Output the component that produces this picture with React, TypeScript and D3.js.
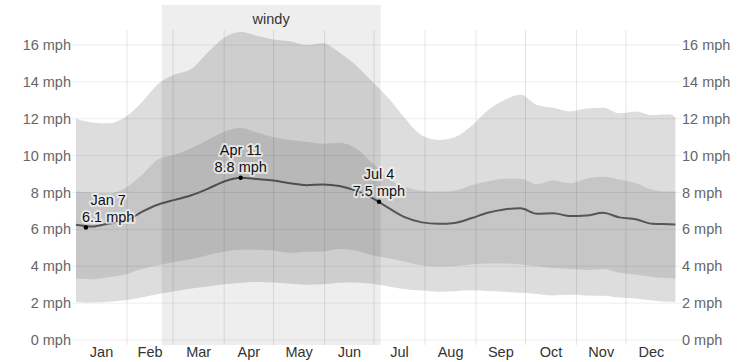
import React, { useEffect, useRef } from 'react';
import * as d3 from 'd3';

// day of year (0 = Jan 1) where the bands were sampled
const days = [0, 10, 20, 30, 40, 50, 60, 70, 80, 90, 100, 110, 120, 130, 140, 150, 160, 170, 180, 190, 200, 210, 220, 230, 240, 250, 260, 270, 280, 290, 300, 310, 320, 330, 340, 350, 360, 364];

const p10 = [2.08, 2.03, 2.08, 2.15, 2.3, 2.5, 2.65, 2.8, 2.9, 3.02, 3.1, 3.15, 3.12, 3.05, 3.0, 3.02, 3.1, 3.12, 3.05, 2.9, 2.75, 2.68, 2.62, 2.65, 2.7, 2.66, 2.62, 2.56, 2.5, 2.42, 2.45, 2.42, 2.4, 2.3, 2.25, 2.14, 2.08, 2.08];
const p25 = [3.34, 3.3, 3.4, 3.55, 3.85, 4.05, 4.25, 4.4, 4.6, 4.8, 4.9, 4.9, 4.85, 4.72, 4.78, 4.8, 4.93, 4.85, 4.6, 4.43, 4.25, 4.05, 3.98, 4.02, 4.1, 4.15, 4.15, 4.1, 4.0, 3.9, 3.85, 3.8, 3.85, 3.65, 3.55, 3.42, 3.36, 3.34];
const meanSpeed = [6.25, 6.15, 6.32, 6.45, 6.95, 7.35, 7.6, 7.85, 8.2, 8.6, 8.8, 8.73, 8.65, 8.5, 8.4, 8.44, 8.35, 8.1, 7.7, 7.15, 6.65, 6.38, 6.3, 6.35, 6.6, 6.9, 7.08, 7.14, 6.85, 6.88, 6.72, 6.75, 6.9, 6.65, 6.55, 6.3, 6.28, 6.27];
const p75 = [8.05, 8.0, 7.95, 8.25, 8.95, 9.8, 10.05, 10.4, 10.85, 11.3, 11.5, 11.25, 11.0, 10.85, 10.75, 10.65, 10.7, 10.4, 9.6, 8.75, 8.3, 8.1, 8.05, 8.1, 8.4, 8.6, 8.75, 8.75, 8.45, 8.65, 8.5, 8.75, 8.85, 8.7, 8.5, 8.15, 8.05, 8.05];
const p90 = [12.0, 11.8, 11.75, 12.1, 12.9, 13.9, 14.4, 14.7, 15.6, 16.4, 16.7, 16.5, 16.3, 16.2, 16.0, 16.1, 15.6, 14.9, 14.0, 13.1, 12.0, 11.1, 10.85, 11.0, 11.6, 12.45, 13.0, 13.3, 12.75, 12.6, 12.4, 12.55, 12.6, 12.3, 12.4, 12.2, 12.25, 12.1];

const months = ['Jan', 'Feb', 'Mar', 'Apr', 'May', 'Jun', 'Jul', 'Aug', 'Sep', 'Oct', 'Nov', 'Dec'];
const monthLengths = [31, 28, 31, 30, 31, 30, 31, 31, 30, 31, 30, 31];
const yTicks = [0, 2, 4, 6, 8, 10, 12, 14, 16];

const windyStart = 52; // Feb 22
const windyEnd = 185; // Jul 4

const annotationDays = [6, 100, 184];
const annotationDates = ['Jan 7', 'Apr 11', 'Jul 4'];
const annotationValues = [6.1, 8.8, 7.5];

const W = 753;
const H = 362;
const FONT = '"Liberation Sans", Arial, sans-serif';

const App: React.FC = () => {
  const svgRef = useRef<SVGSVGElement>(null);

  useEffect(() => {
    if (!svgRef.current) return;
    const svg = d3.select(svgRef.current);
    svg.selectAll('*').remove();

    const left = 76;
    const right = 677;
    const x = d3.scaleLinear().domain([0, 365]).range([left, right]);
    const y = d3.scaleLinear().domain([0, 16]).range([340, 45]);

    const idx = days.map((_, i) => i);

    const band = (lo: number[], hi: number[]) =>
      d3
        .area<number>()
        .x((i) => x(days[i]))
        .y0((i) => y(lo[i]))
        .y1((i) => y(hi[i]))
        .curve(d3.curveMonotoneX)(idx);

    svg.append('path').attr('d', band(p10, p90)).attr('fill', '#dddddd');
    svg.append('path').attr('d', band(p25, p75)).attr('fill', '#c6c6c6');

    // grid
    svg
      .append('g')
      .selectAll('line')
      .data(yTicks)
      .enter()
      .append('line')
      .attr('x1', left - 4)
      .attr('x2', right + 4)
      .attr('y1', (d) => y(d))
      .attr('y2', (d) => y(d))
      .attr('stroke', '#000')
      .attr('stroke-opacity', 0.07);

    const monthStarts = monthLengths.map((_, i) => d3.sum(monthLengths.slice(0, i)));
    svg
      .append('g')
      .selectAll('line')
      .data(monthStarts.slice(1))
      .enter()
      .append('line')
      .attr('x1', (d) => x(d))
      .attr('x2', (d) => x(d))
      .attr('y1', 30)
      .attr('y2', 345)
      .attr('stroke', '#000')
      .attr('stroke-opacity', 0.1);

    // mean line
    const line = d3
      .line<number>()
      .x((i) => x(days[i]))
      .y((i) => y(meanSpeed[i]))
      .curve(d3.curveMonotoneX);
    svg
      .append('path')
      .attr('d', line(idx))
      .attr('fill', 'none')
      .attr('stroke', '#555')
      .attr('stroke-width', 2);

    // windy season overlay
    svg
      .append('rect')
      .attr('x', x(windyStart))
      .attr('y', 5)
      .attr('width', x(windyEnd) - x(windyStart))
      .attr('height', 340)
      .attr('fill', '#000')
      .attr('fill-opacity', 0.068);

    svg
      .append('text')
      .attr('x', (x(windyStart) + x(windyEnd)) / 2)
      .attr('y', 24)
      .attr('text-anchor', 'middle')
      .attr('font-family', FONT)
      .attr('font-size', 14.5)
      .attr('fill', '#333')
      .text('windy');

    // y axes
    const yl = svg.append('g').attr('font-family', FONT).attr('font-size', 14.5).attr('fill', '#666');
    yl.selectAll('text.l')
      .data(yTicks)
      .enter()
      .append('text')
      .attr('class', 'l')
      .attr('x', 71)
      .attr('y', (d) => y(d) + 5)
      .attr('text-anchor', 'end')
      .text((d) => `${d} mph`);
    yl.selectAll('text.r')
      .data(yTicks)
      .enter()
      .append('text')
      .attr('class', 'r')
      .attr('x', 682)
      .attr('y', (d) => y(d) + 5)
      .attr('text-anchor', 'start')
      .text((d) => `${d} mph`);

    // months
    svg
      .append('g')
      .selectAll('text')
      .data(months)
      .enter()
      .append('text')
      .attr('x', (_, i) => x(monthStarts[i] + monthLengths[i] / 2))
      .attr('y', 357)
      .attr('text-anchor', 'middle')
      .attr('font-family', FONT)
      .attr('font-size', 14.5)
      .attr('fill', '#333')
      .text((d) => d);

    // annotations
    annotationDays.forEach((d, i) => {
      const cx = x(d);
      const cy = y(annotationValues[i]);
      svg.append('circle').attr('cx', cx).attr('cy', cy).attr('r', 2.2).attr('fill', '#000');
      const g = svg
        .append('g')
        .attr('font-family', FONT)
        .attr('font-size', 14.5)
        .attr('text-anchor', 'middle');
      const lines = [annotationDates[i], `${annotationValues[i]} mph`];
      const texts = lines.map((t, k) =>
        g
          .append('text')
          .attr('x', cx)
          .attr('y', cy - 23 + k * 17)
          .attr('fill', '#111')
          .attr('stroke', '#fff')
          .attr('stroke-opacity', 0.6)
          .attr('stroke-width', 4)
          .attr('stroke-linejoin', 'round')
          .attr('paint-order', 'stroke')
          .text(t)
      );
      const half = d3.max(texts, (t) => (t.node() as SVGTextElement).getComputedTextLength() / 2) || 0;
      const tx = Math.max(cx, left + 6 + half);
      texts.forEach((t) => t.attr('x', tx));
    });
  }, []);

  return (
    <svg
      ref={svgRef}
      width={W}
      height={H}
      style={{ position: 'absolute', left: 0, top: 0, background: '#fff' }}
    />
  );
};

export default App;
